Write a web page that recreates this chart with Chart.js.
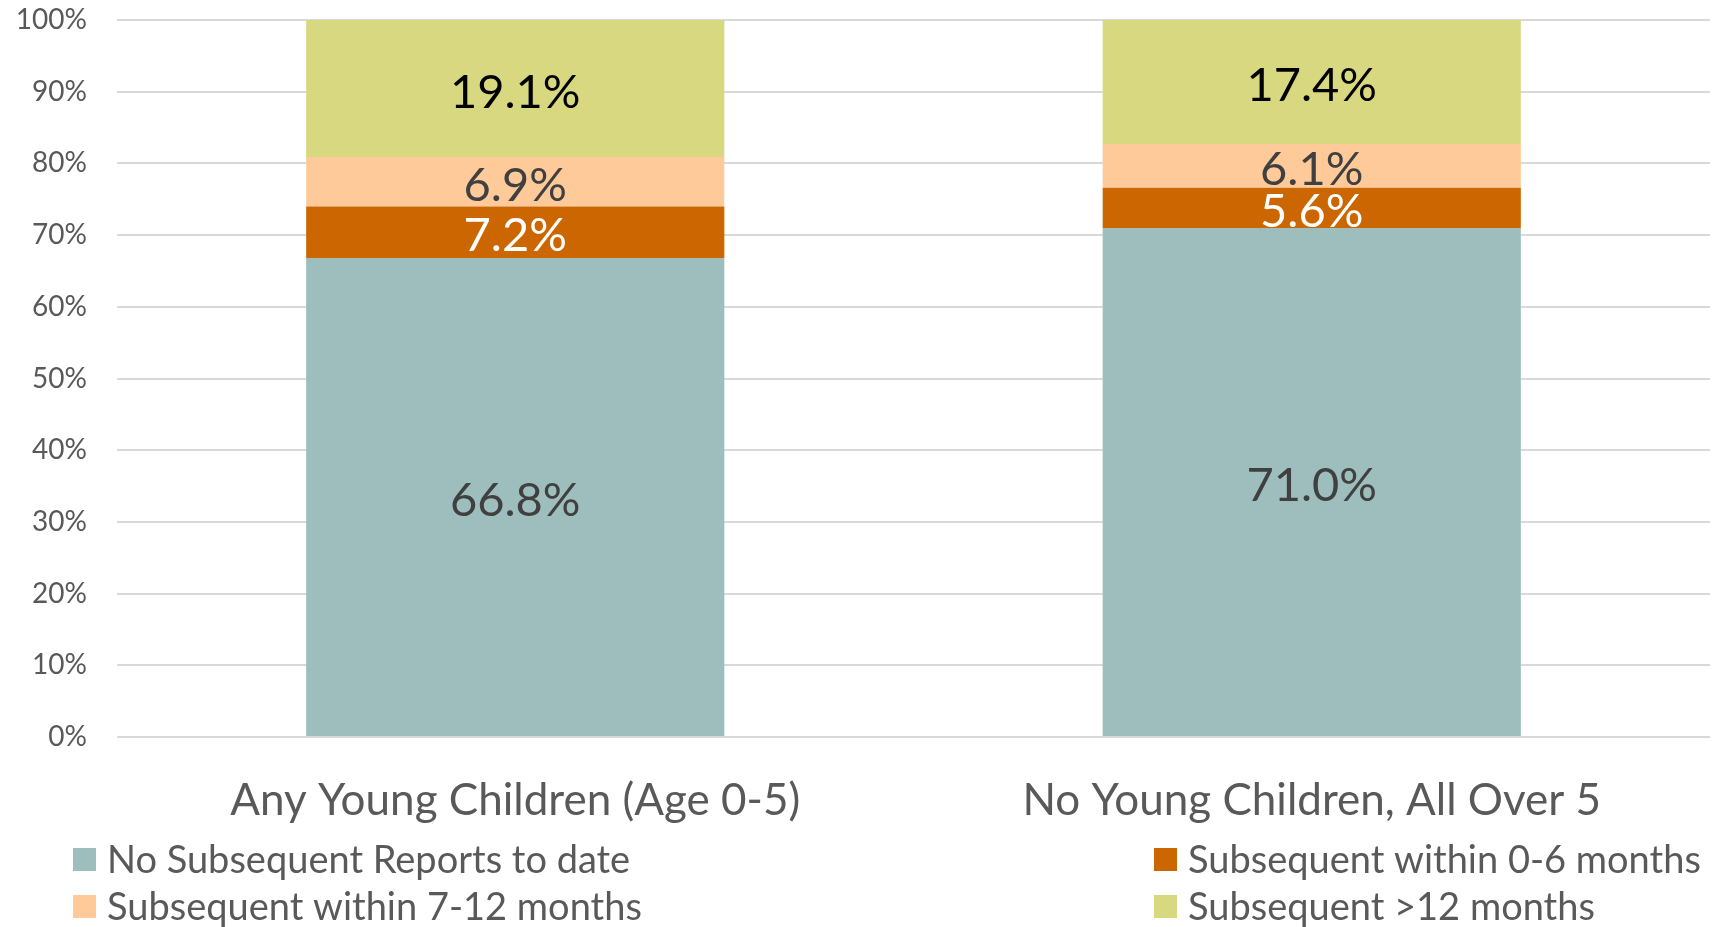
<!DOCTYPE html>
<html><head><meta charset="utf-8">
<script src="https://cdn.jsdelivr.net/npm/chart.js@4.4.0/dist/chart.umd.min.js"></script>
<style>html,body{margin:0;padding:0;background:#fff;}#wrap{width:1726px;height:927px;position:relative;}</style>
</head><body><div id="wrap"><canvas id="c" width="1726" height="927"></canvas></div>
<script>
const categories = ["Any Young Children (Age 0-5)", "No Young Children, All Over 5"];
const seriesNames = ["No Subsequent Reports to date", "Subsequent within 0-6 months", "Subsequent within 7-12 months", "Subsequent >12 months"];
const noSubsequent = [66.8, 71.0];
const within0to6 = [7.2, 5.6];
const within7to12 = [6.9, 6.1];
const over12 = [19.1, 17.4];
const yTickValues = [0, 10, 20, 30, 40, 50, 60, 70, 80, 90, 100];

const seriesColors = ["#9DBEBC", "#CC6600", "#FFCA99", "#D8D880"];
const labelColors = ["#404040", "#FFFFFF", "#404040", "#000000"];
const FONT = "Lato, 'DejaVu Sans', sans-serif";

const seriesValues = [noSubsequent, within0to6, within7to12, over12];

const barLabels = {
  id: 'barLabels',
  afterDatasetsDraw(chart) {
    const ctx = chart.ctx;
    ctx.save();
    ctx.font = "47px " + FONT;
    ctx.textAlign = 'center';
    ctx.textBaseline = 'middle';
    chart.data.datasets.forEach((ds, i) => {
      const meta = chart.getDatasetMeta(i);
      meta.data.forEach((el, j) => {
        const top = Math.max(el.y, chart.chartArea.top);
        const y = (top + el.base) / 2 + 4;
        ctx.fillStyle = labelColors[i];
        ctx.fillText(ds.data[j].toFixed(1) + '%', el.x, y);
      });
    });
    ctx.restore();
  }
};

const customLegend = {
  id: 'customLegend',
  afterDraw(chart) {
    const ctx = chart.ctx;
    const pos = [
      {bx: 73, ty: 860, tx: 107},
      {bx: 1154, ty: 860, tx: 1188},
      {bx: 73, ty: 907, tx: 107},
      {bx: 1154, ty: 907, tx: 1188}
    ];
    ctx.save();
    ctx.font = "38px " + FONT;
    ctx.textAlign = 'left';
    ctx.textBaseline = 'middle';
    chart.data.datasets.forEach((ds, i) => {
      const p = pos[i];
      ctx.fillStyle = ds.backgroundColor;
      ctx.fillRect(p.bx, p.ty - 12, 23, 23);
      ctx.fillStyle = '#595959';
      ctx.fillText(ds.label, p.tx, p.ty + 1);
    });
    ctx.restore();
  }
};

new Chart(document.getElementById('c'), {
  type: 'bar',
  data: {
    labels: categories,
    datasets: seriesNames.map((name, i) => ({
      label: name,
      data: seriesValues[i],
      backgroundColor: seriesColors[i],
      borderWidth: 0,
      categoryPercentage: 1.0,
      barPercentage: 0.525
    }))
  },
  options: {
    responsive: false,
    animation: false,
    devicePixelRatio: 1,
    layout: {padding: {left: 0, right: 16, top: 20, bottom: 0}},
    plugins: {legend: {display: false}, tooltip: {enabled: false}},
    scales: {
      x: {
        stacked: true,
        grid: {display: false},
        border: {display: false},
        ticks: {font: {family: FONT, size: 44}, color: '#595959', padding: 29, maxRotation: 0, autoSkip: false},
        afterFit(s) { s.height = 190; s.paddingTop = 0; s.paddingBottom = 0; s.paddingLeft = 0; s.paddingRight = 0; }
      },
      y: {
        stacked: true,
        min: 0, max: 100,
        afterBuildTicks(s) { s.ticks = yTickValues.map(v => ({value: v})); },
        grid: {color: '#D9D9D9', lineWidth: 2, drawTicks: false},
        border: {display: false},
        ticks: {font: {family: FONT, size: 28}, color: '#595959', padding: 30, callback: v => v + '%'},
        afterFit(s) { s.width = 117; s.paddingTop = 0; s.paddingBottom = 0; }
      }
    }
  },
  plugins: [barLabels, customLegend]
});
</script>
</body></html>
